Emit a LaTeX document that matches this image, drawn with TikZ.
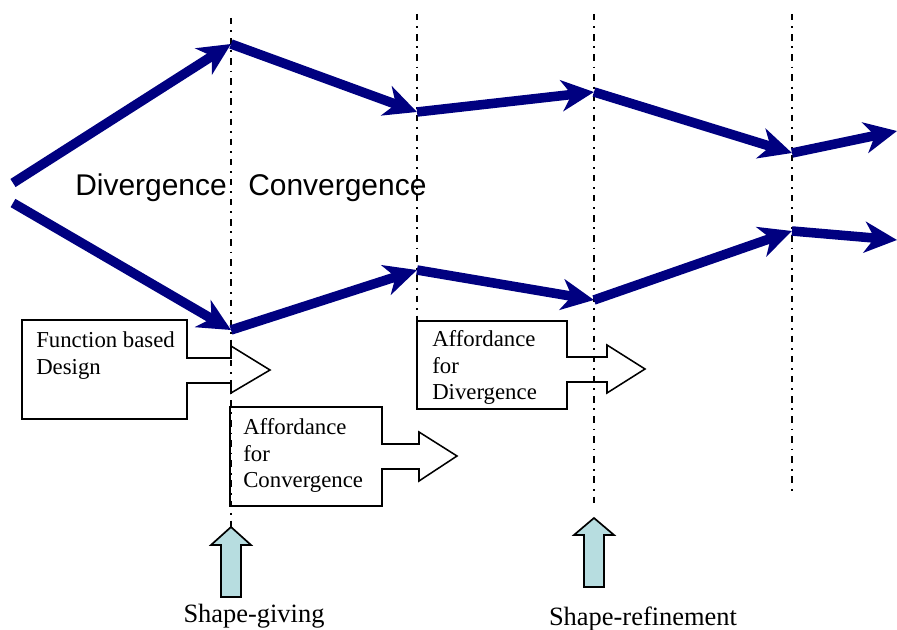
\documentclass[tikz,border=0pt]{standalone}
\usepackage{fontspec}
\setmainfont{Liberation Serif}
\newfontfamily\phasefont{Liberation Sans}
\usetikzlibrary{arrows.meta}
\definecolor{pathblue}{HTML}{000080}
\definecolor{pushcyan}{HTML}{B7DDE0}

\tikzset{
  flow/.style={pathblue, line width=6.8pt, -{Stealth[length=23pt,width=22pt,inset=7pt]}},
  phaseline/.style={black, line width=1.1pt, dash pattern=on 4.6pt off 4.2pt on 1.3pt off 4.2pt},
  callout/.style={draw, line width=1.1pt, line join=miter},
  boxtext/.style={anchor=base west, inner sep=0pt, align=left, font=\fontsize{16.2}{19.2}\selectfont},
  phaselabel/.style={anchor=base west, inner sep=0pt, font=\phasefont\fontsize{21.3}{25}\selectfont},
  push/.style={draw, fill=pushcyan, line width=1.2pt, line join=miter},
  pushlabel/.style={anchor=base, inner sep=0pt, font=\fontsize{18.8}{22}\selectfont}
}

\begin{document}
\begin{tikzpicture}[x=0.025cm, y=-0.025cm]
\useasboundingbox (0,0) rectangle (897,630);

% phase borders
\coordinate (p1top) at (231,18);
\coordinate (p2top) at (417,14);
\coordinate (p2bot) at (417,321);
\coordinate (p3top) at (594,14);
\coordinate (p3bot) at (594,505);
\coordinate (p4top) at (792,14);
\coordinate (p4bot) at (792,491);
\coordinate (givetip) at (231,527);
\coordinate (refinetip) at (594,518);
\draw[phaseline] (p1top) -- (givetip);
\draw[phaseline] (p2top) -- (p2bot);
\draw[phaseline] (p3top) -- (p3bot);
\draw[phaseline] (p4top) -- (p4bot);

% upper branch
\coordinate (u0) at (13,183);
\coordinate (u1) at (231,44);
\coordinate (u2) at (417,112);
\coordinate (u3) at (594,92);
\coordinate (u4) at (792,153);
\coordinate (u5) at (897,131);
% lower branch
\coordinate (l0) at (13,203);
\coordinate (l1) at (231,330);
\coordinate (l2) at (417,270);
\coordinate (l3) at (594,300);
\coordinate (l4) at (792,231);
\coordinate (l5) at (897,240);

\draw[flow] (u0) -- (u1);
\draw[flow] (u1) -- (u2);
\draw[flow] (u2) -- (u3);
\draw[flow] (u3) -- (u4);
\draw[flow] (u4) -- (u5);
\draw[flow] (l0) -- (l1);
\draw[flow] (l1) -- (l2);
\draw[flow] (l2) -- (l3);
\draw[flow] (l3) -- (l4);
\draw[flow] (l4) -- (l5);

\node[phaselabel] (diverge) at (75,196) {Divergence};
\node[phaselabel] (converge) at (248,196) {Convergence};

% callouts
\draw[callout] (22,320) -- (187,320) -- (187,358) -- (231,358) -- (231,346) -- (270,370)
  -- (231,393) -- (231,383) -- (187,383) -- (187,419) -- (22,419) -- cycle;
\node[boxtext] (fbd) at (36,374) {Function based\\Design};

\draw[callout] (230,407) -- (382,407) -- (382,444) -- (419,444) -- (419,432) -- (457,456)
  -- (419,481) -- (419,469) -- (382,469) -- (382,506) -- (230,506) -- cycle;
\node[boxtext] (afc) at (243,488) {Affordance\\for\\Convergence};

\draw[callout] (417,321) -- (567,321) -- (567,357) -- (607,357) -- (607,345) -- (645,369)
  -- (607,393) -- (607,382) -- (567,382) -- (567,409) -- (417,409) -- cycle;
\node[boxtext] (afd) at (432,400) {Affordance\\for\\Divergence};

% shape pushes
\draw[push] (givetip) -- (251,545) -- (241,545) -- (241,597) -- (221,597) -- (221,545)
  -- (211,545) -- cycle;
\node[pushlabel] (giving) at (254,622) {Shape-giving};

\draw[push] (refinetip) -- (614,535) -- (604,535) -- (604,587) -- (584,587) -- (584,535)
  -- (574,535) -- cycle;
\node[pushlabel] (refining) at (643,625) {Shape-refinement};
\end{tikzpicture}
\end{document}
